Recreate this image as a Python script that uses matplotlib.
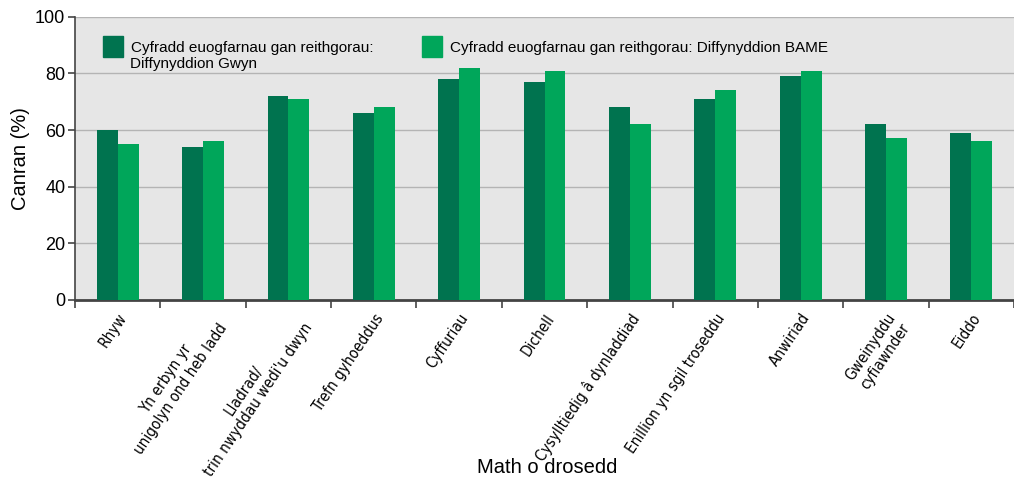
import matplotlib
matplotlib.use("Agg")
import matplotlib.pyplot as plt
from matplotlib import font_manager
from matplotlib.patches import Patch
import numpy as np

categories = [
    "Rhyw",
    "Yn erbyn yr\nunigolyn ond heb ladd",
    "Lladrad/\ntrin nwyddau wedi'u dwyn",
    "Trefn gyhoeddus",
    "Cyffuriau",
    "Dichell",
    "Cysylltiedig â dynladdiad",
    "Enillion yn sgil troseddu",
    "Anwiriad",
    "Gweinyddu\ncyfiawnder",
    "Eiddo",
]
gwyn = [60, 54, 72, 66, 78, 77, 68, 71, 79, 62, 59]
bame = [55, 56, 71, 68, 82, 81, 62, 74, 81, 57, 56]
series_names = [
    "Cyfradd euogfarnau gan reithgorau:",
    "Cyfradd euogfarnau gan reithgorau: Diffynyddion BAME",
]
second_line = "Diffynyddion Gwyn"

dark = "#00734f"
light = "#00a65a"

plt.rcParams["font.family"] = ["Liberation Sans", "DejaVu Sans"]
# regular-weight condensed face for the tick labels, if one is installed
cond = [f for f in font_manager.fontManager.ttflist
        if (f.stretch in ("condensed", "semi-condensed") or "Narrow" in f.name)
        and f.weight in (400, "normal", "regular") and f.style == "normal"]

fig = plt.figure(figsize=(10.14, 4.86), dpi=100)
ax = fig.add_axes([0.074, 0.3833, 0.926, 0.582])
ax.set_facecolor("#e6e6e6")

x = np.arange(len(categories))
w = 0.245
ax.bar(x - w / 2, gwyn, w, color=dark, zorder=3)
ax.bar(x + w / 2, bame, w, color=light, zorder=3)

ax.set_xlim(-0.5, 10.39)
ax.set_ylim(0, 100)
ax.set_yticks(range(0, 101, 20))
ax.yaxis.grid(True, color="#b4b4b4", linewidth=1, zorder=1)
ax.tick_params(axis="y", labelsize=13, length=5, width=1.2, color="#444444", pad=2)

ax.set_xticks(x)
labels = ax.set_xticklabels(categories, rotation=56, ha="right", va="top",
                            rotation_mode="anchor", multialignment="center")
if cond:
    fp = font_manager.FontProperties(fname=cond[0].fname, size=11)
else:
    fp = font_manager.FontProperties(family="Liberation Sans", size=10.5)
for t in labels:
    t.set_fontproperties(fp)
ax.tick_params(axis="x", length=0, pad=8)
ax.set_xticks(np.arange(-0.5, 11, 1), minor=True)
ax.tick_params(axis="x", which="minor", length=6, width=1.2, color="#444444")

for s in ["top", "right"]:
    ax.spines[s].set_visible(False)
ax.spines["left"].set_color("#444444")
ax.spines["bottom"].set_color("#444444")
ax.spines["bottom"].set_linewidth(2)
ax.spines["left"].set_linewidth(1.2)

ax.set_ylabel("Canran (%)", fontsize=14.5, labelpad=4)
ax.set_xlabel("Math o drosedd", fontsize=14.5)
ax.xaxis.set_label_coords(0.503, -0.56)

handles = [Patch(color=dark), Patch(color=light)]
ax.legend(handles, series_names, loc="upper left", bbox_to_anchor=(0.015, 0.98),
          ncol=2, frameon=False, fontsize=11, handlelength=1.31,
          handleheight=1.7, handletextpad=0.52, columnspacing=3.2)
ax.text(0.0586, 0.835, second_line, transform=ax.transAxes, fontsize=11,
        va="center", ha="left")

fig.savefig("out.png", dpi=100)
